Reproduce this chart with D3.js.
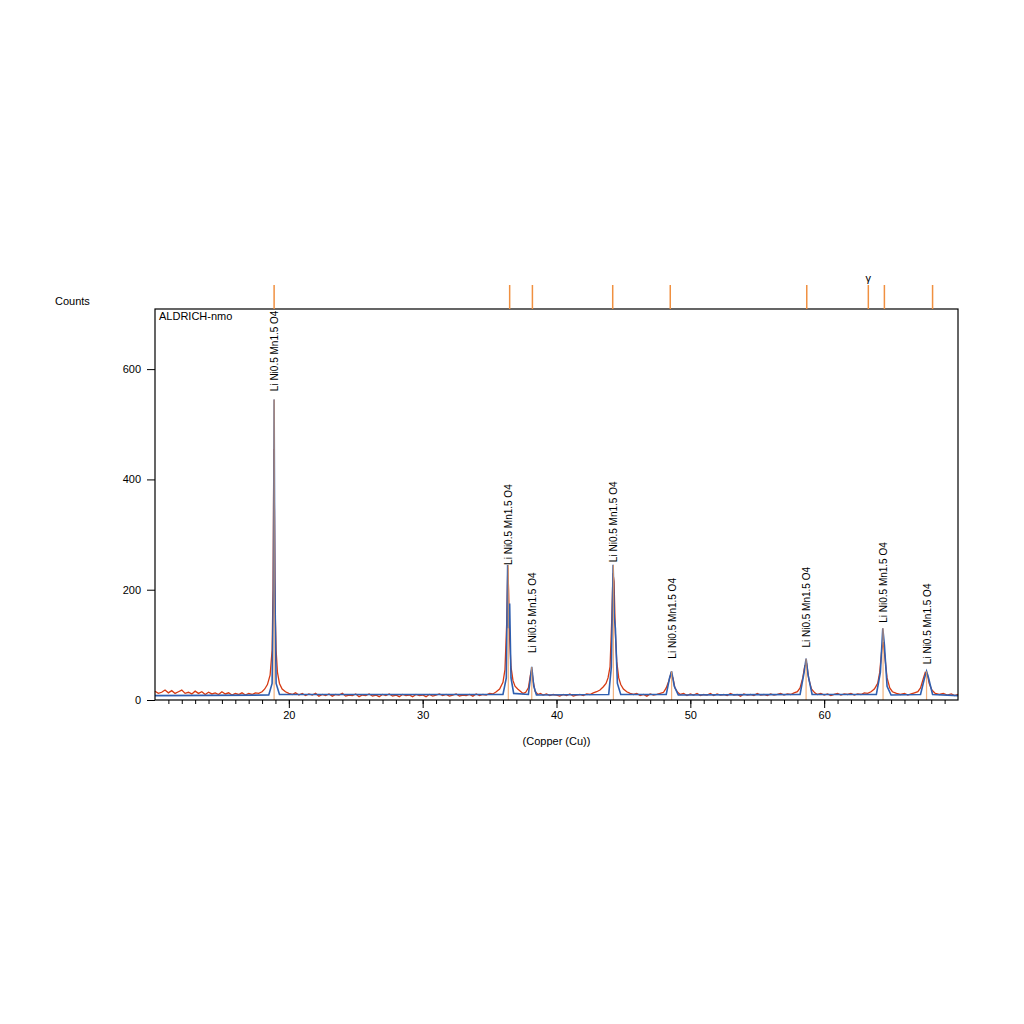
<!DOCTYPE html>
<html><head><meta charset="utf-8">
<script src="https://cdn.jsdelivr.net/npm/d3@7"></script>
<style>body{margin:0;background:#fff}text{font-family:"Liberation Sans",Arial,sans-serif}</style>
</head><body><svg id="c" width="1024" height="1024"></svg>
<script>
const xTicks=[20,30,40,50,60];
const yTicks=[0,200,400,600];
const observed=[[10,16],[10.25,12],[10.5,14],[10.75,18],[11,13],[11.25,17],[11.5,12],[11.75,15],[12,18],[12.25,12],[12.5,14],[12.75,11],[13,16],[13.25,12],[13.5,15],[13.75,10],[14,14],[14.25,11],[14.5,13],[14.75,10],[15,15],[15.25,11],[15.5,13],[15.75,9],[16,12],[16.25,10],[16.5,13],[16.75,9],[17,12],[17.25,10],[17.5,13],[17.75,12],[18,15],[18.2,20],[18.4,28],[18.6,45],[18.75,90],[18.82,200],[18.88,455],[18.93,330],[18.98,160],[19.05,90],[19.15,50],[19.3,30],[19.5,20],[19.75,15],[20,12],[20.25,10],[20.5,13],[20.75,9],[21,12],[21.25,8],[21.5,11],[21.75,9],[22,12],[22.25,7],[22.5,10],[22.75,8],[23,11],[23.25,7],[23.5,10],[23.75,9],[24,12],[24.25,7],[24.5,9],[24.75,8],[25,11],[25.25,6],[25.5,9],[25.75,8],[26,11],[26.25,7],[26.5,9],[26.75,6],[27,10],[27.25,8],[27.5,11],[27.75,7],[28,9],[28.25,6],[28.5,10],[28.75,8],[29,9],[29.25,6],[29.5,10],[29.75,8],[30,9],[30.25,6],[30.5,10],[30.75,7],[31,9],[31.25,11],[31.5,8],[31.75,10],[32,7],[32.25,9],[32.5,11],[32.75,7],[33,9],[33.25,8],[33.5,10],[33.75,7],[34,11],[34.25,8],[34.5,10],[34.75,9],[35,12],[35.25,11],[35.5,15],[35.75,20],[36,32],[36.15,55],[36.28,140],[36.36,240],[36.42,200],[36.5,110],[36.6,60],[36.75,35],[36.9,25],[37.1,20],[37.3,16],[37.5,12],[37.7,14],[37.9,22],[38.05,45],[38.15,55],[38.25,35],[38.4,16],[38.6,10],[38.8,12],[39,9],[39.25,11],[39.5,8],[39.75,10],[40,9],[40.25,7],[40.5,10],[40.75,8],[41,11],[41.25,7],[41.5,9],[41.75,10],[42,8],[42.25,11],[42.5,10],[42.75,13],[43,15],[43.25,18],[43.5,24],[43.7,30],[43.85,40],[44.0,60],[44.12,140],[44.22,230],[44.3,215],[44.4,120],[44.5,70],[44.65,40],[44.8,28],[45.0,20],[45.25,15],[45.5,12],[45.75,10],[46,12],[46.25,8],[46.5,10],[46.75,7],[47,11],[47.25,9],[47.5,10],[47.75,12],[48,14],[48.2,22],[48.4,35],[48.55,48],[48.7,40],[48.85,22],[49.05,14],[49.25,10],[49.5,12],[49.75,8],[50,11],[50.25,9],[50.5,12],[50.75,8],[51,10],[51.25,9],[51.5,12],[51.75,8],[52,11],[52.25,9],[52.5,10],[52.75,8],[53,12],[53.25,9],[53.5,10],[53.75,7],[54,11],[54.25,9],[54.5,10],[54.75,8],[55,12],[55.25,9],[55.5,10],[55.75,8],[56,11],[56.25,9],[56.5,10],[56.75,12],[57,9],[57.25,11],[57.5,10],[57.75,13],[58,15],[58.2,22],[58.4,40],[58.55,62],[58.7,65],[58.85,38],[59.05,20],[59.3,13],[59.5,10],[59.75,12],[60,9],[60.25,11],[60.5,8],[60.75,10],[61,12],[61.25,9],[61.5,11],[61.75,10],[62,12],[62.25,9],[62.5,11],[62.75,10],[63,13],[63.25,12],[63.5,15],[63.75,20],[64.0,30],[64.15,50],[64.3,90],[64.42,105],[64.55,75],[64.7,40],[64.9,22],[65.1,15],[65.4,12],[65.7,10],[66,12],[66.25,9],[66.5,11],[66.75,13],[67,15],[67.2,22],[67.4,38],[67.55,50],[67.7,48],[67.85,30],[68.05,18],[68.3,12],[68.6,10],[68.9,12],[69.2,9],[69.5,11],[69.75,8],[70,10]];
const calculated=[[10,8],[18.5,9],[18.75,30],[18.85,200],[18.9,545],[18.95,220],[19.05,30],[19.3,10],[36.0,10],[36.25,40],[36.35,245],[36.42,130],[36.5,175],[36.6,40],[36.8,12],[37.9,10],[38.05,40],[38.15,60],[38.3,25],[38.5,9],[43.9,10],[44.1,60],[44.23,245],[44.32,150],[44.4,130],[44.55,30],[44.8,10],[48.2,10],[48.45,40],[48.6,52],[48.8,25],[49.1,9],[58.2,10],[58.5,50],[58.65,75],[58.8,45],[59.1,10],[63.9,10],[64.2,50],[64.38,130],[64.5,100],[64.7,25],[65.0,9],[67.2,10],[67.5,40],[67.65,52],[67.8,40],[68.1,10],[70,8]];
const peakPos=[18.9,36.4,38.15,44.25,48.6,58.65,64.4,67.65];
const labelBase=[560,245,85,250,75,95,140,65];
const refPos=[18.9,36.5,38.2,44.2,48.5,58.7,63.3,64.5,68.1];
const gammaPos=63.3;
const labelText="Li Ni0.5 Mn1.5 O4";

const svg=d3.select("#c");
const L=155,R=958,T=309,B=700;
const x=d3.scaleLinear().domain([10,70]).range([L,R]);
const y=d3.scaleLinear().domain([0,709]).range([B,T]);

// peak base profiles (grey) at each peak
const line=d3.line().x(d=>x(d[0])).y(d=>y(d[1]));
svg.append("path").datum(observed).attr("d",line).attr("fill","none").attr("stroke","#d63a12").attr("stroke-width",1.3);
svg.append("path").datum(calculated).attr("d",line).attr("fill","none").attr("stroke","#2f5fb0").attr("stroke-width",1.6);
// sticks
svg.selectAll(".stk").data(peakPos).enter().append("line")
 .attr("x1",d=>x(d)).attr("x2",d=>x(d)).attr("y1",y(0)).attr("y2",(d,i)=>y(calculated.filter(c=>Math.abs(c[0]-d)<0.1).reduce((m,c)=>Math.max(m,c[1]),0)))
 .attr("stroke","#f0a060").attr("stroke-width",1.2).attr("opacity",0.8);
// frame
svg.append("rect").attr("x",L).attr("y",T).attr("width",R-L).attr("height",B-T).attr("fill","none").attr("stroke","#000").attr("stroke-width",1.2);
// axes
svg.append("g").attr("transform",`translate(0,${B})`).call(d3.axisBottom(x).tickValues(d3.range(11,70,1)).tickSize(4).tickFormat("")).call(g=>g.select(".domain").remove());
svg.append("g").attr("transform",`translate(0,${B})`).call(d3.axisBottom(x).tickValues(xTicks).tickSize(8).tickFormat(d3.format("d"))).call(g=>g.select(".domain").remove()).selectAll("text").attr("font-size",11);
svg.append("g").attr("transform",`translate(${L},0)`).call(d3.axisLeft(y).tickValues(yTicks).tickSize(8).tickPadding(6)).call(g=>g.select(".domain").remove()).selectAll("text").attr("font-size",11);
svg.append("text").attr("x",(L+R)/2).attr("y",745).attr("text-anchor","middle").attr("font-size",11).text("(Copper (Cu))");
svg.append("text").attr("x",55).attr("y",305).attr("font-size",11).text("Counts");
svg.append("text").attr("x",159).attr("y",320).attr("font-size",11).text("ALDRICH-nmo");
// reference ticks above
svg.selectAll(".ref").data(refPos).enter().append("line").attr("x1",d=>x(d)).attr("x2",d=>x(d)).attr("y1",285).attr("y2",T).attr("stroke","#f09040").attr("stroke-width",1.5);
svg.append("text").attr("x",x(gammaPos)).attr("y",282).attr("text-anchor","middle").attr("font-size",11).text("γ");
// labels
svg.selectAll(".lab").data(peakPos).enter().append("text")
 .attr("transform",(d,i)=>`translate(${x(d)+4},${y(labelBase[i])}) rotate(-90)`)
 .attr("font-size",10).text(labelText);
</script></body></html>
